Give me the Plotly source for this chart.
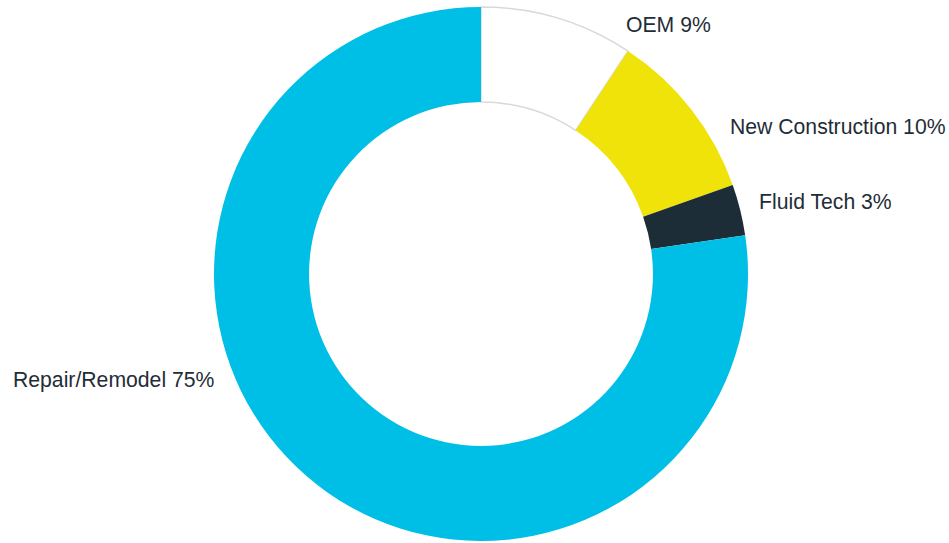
import plotly.graph_objects as go

# Revenue mix by end market (percent)
segments = ["OEM", "New Construction", "Fluid Tech", "Repair/Remodel"]
shares = [9, 10, 3, 75]
colors = ["#FFFFFF", "#F0E30A", "#1C2D37", "#00BFE7"]
edge_colors = ["#D9D9D9", "#F0E30A", "#1C2D37", "#00BFE7"]
edge_widths = [1.5, 0, 0, 0]

# Label anchor points (pixels from top-left of the 949x543 canvas)
label_px = [(624, 24), (728, 127), (757, 202), (11, 380)]

W, H = 949, 543
cx, cy, r = 481, 274, 267

fig = go.Figure(go.Pie(
    labels=segments,
    values=shares,
    sort=False,
    direction="clockwise",
    rotation=0,
    hole=0.644,
    marker=dict(colors=colors, line=dict(color=edge_colors, width=edge_widths)),
    textinfo="none",
    hoverinfo="label+percent",
    domain=dict(x=[(cx - r) / W, (cx + r) / W], y=[(H - cy - r) / H, (H - cy + r) / H]),
    showlegend=False,
))

for name, val, (px, py) in zip(segments, shares, label_px):
    fig.add_annotation(
        text=f"{name} {val}%",
        x=px / W, y=1 - py / H,
        xref="paper", yref="paper",
        xanchor="left", yanchor="middle",
        showarrow=False,
        font=dict(family="Liberation Sans, Arial, sans-serif", size=21.2, color="#1F2D37"),
    )

fig.update_layout(
    width=W, height=H,
    margin=dict(l=0, r=0, t=0, b=0),
    paper_bgcolor="#FFFFFF",
    plot_bgcolor="#FFFFFF",
)

fig.write_html("out.html")
